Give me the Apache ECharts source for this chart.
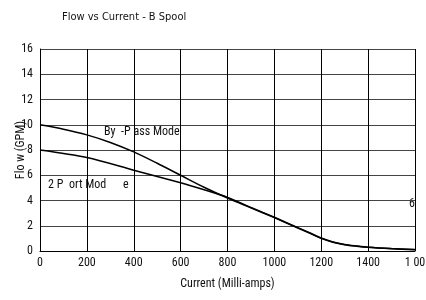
<!DOCTYPE html>
<html>
	<head>
		<meta charset="utf-8" />
		<title>Flow vs Current</title>
		<style type="text/css">
			body,
			html,
			#chart {
				width: 100%;
				height: 100%;
				overflow: hidden;
				margin: 0;
				background: #fff;
			}
		</style>
	</head>
	<body>
		<div id="chart"></div>
		<script src="https://cdn.jsdelivr.net/npm/echarts@6/dist/echarts.min.js"></script>
		<script>
			// 数据
			var xTicks = [0, 200, 400, 600, 800, 1000, 1200, 1400, 1600];
			var xTickLabels = ['0', '200', '400', '600', '800', '1000', '1200', '1400', '1 00'];
			var yTicks = [0, 2, 4, 6, 8, 10, 12, 14, 16];
			var bypassCurrent = [0, 100, 200, 300, 400, 500, 600, 700, 800, 900, 1000, 1100, 1150, 1200, 1250, 1300, 1350, 1400, 1500, 1600];
			var bypassFlow = [10, 9.65, 9.2, 8.6, 7.85, 6.95, 6.0, 5.05, 4.2, 3.42, 2.64, 1.82, 1.42, 1.0, 0.7, 0.5, 0.38, 0.29, 0.18, 0.1];
			var portCurrent = [0, 200, 400, 600, 700, 800, 900, 1000, 1100, 1150, 1200, 1250, 1300, 1350, 1400, 1500, 1600];
			var portFlow = [8, 7.4, 6.4, 5.4, 4.85, 4.25, 3.45, 2.67, 1.85, 1.45, 1.03, 0.72, 0.52, 0.4, 0.3, 0.19, 0.11];

			var font = "'Roboto Condensed', 'DejaVu Sans Condensed', sans-serif";
			var titleFont = "'DejaVu Sans Condensed', 'Roboto Condensed', sans-serif";

			function pairs(xs, ys) {
				return xs.map(function(x, i) {
					return [x, ys[i]];
				});
			}

			function note(text, x, y) {
				return {
					type: 'text',
					x: x,
					y: y,
					style: { text: text, font: '12px ' + font, fill: '#111', textVerticalAlign: 'middle' }
				};
			}

			var dom = document.getElementById('chart');
			var myChart = echarts.init(dom);
			var option = {
				animation: false,
				title: {
					text: 'Flow vs Current - B Spool',
					left: 57,
					top: 7,
					textStyle: { fontFamily: titleFont, fontSize: 11, fontWeight: 'normal', color: '#111' }
				},
				grid: { left: 40, right: 11, top: 49, bottom: 49, outerBoundsMode: 'none', containLabel: false },
				xAxis: {
					type: 'value',
					min: 0,
					max: 1600,
					interval: 200,
					name: 'Current (Milli-amps)',
					nameLocation: 'middle',
					nameGap: 27,
					nameTextStyle: { fontFamily: font, fontSize: 12, color: '#111' },
					axisLine: { lineStyle: { color: '#000', width: 1 } },
					axisTick: { show: false },
					axisLabel: {
						fontFamily: font,
						fontSize: 12,
						color: '#111',
						margin: 6,
						formatter: function(v) {
							var i = xTicks.indexOf(v);
							return i >= 0 ? xTickLabels[i] : '';
						}
					},
					splitLine: { show: true, lineStyle: { color: '#000', width: 1 } }
				},
				yAxis: {
					type: 'value',
					min: 0,
					max: 16,
					interval: 2,
					name: 'Flo w (GPM)',
					nameLocation: 'middle',
					nameGap: 13,
					nameMoveOverlap: false,
					nameTextStyle: { fontFamily: font, fontSize: 12, color: '#111' },
					axisLine: { show: true, lineStyle: { color: '#000', width: 1 } },
					axisTick: { show: false },
					axisLabel: { fontFamily: font, fontSize: 12, color: '#111', margin: 7 },
					splitLine: { show: true, lineStyle: { color: '#444', width: 1 } }
				},
				graphic: [
					note('By  -P ass Mode', 104, 132),
					note('2 P', 48, 185),
					note('ort Mod', 69, 185),
					note('e', 123, 185),
					note('6', 409, 204)
				],
				series: [
					{
						name: 'By-Pass Mode',
						type: 'line',
						data: pairs(bypassCurrent, bypassFlow),
						smooth: 0.3,
						symbol: 'none',
						lineStyle: { color: '#000', width: 1.5 }
					},
					{
						name: '2 Port Mode',
						type: 'line',
						data: pairs(portCurrent, portFlow),
						smooth: 0.3,
						symbol: 'none',
						lineStyle: { color: '#000', width: 1.5 }
					}
				]
			};
			myChart.setOption(option);
		</script>
	</body>
</html>
